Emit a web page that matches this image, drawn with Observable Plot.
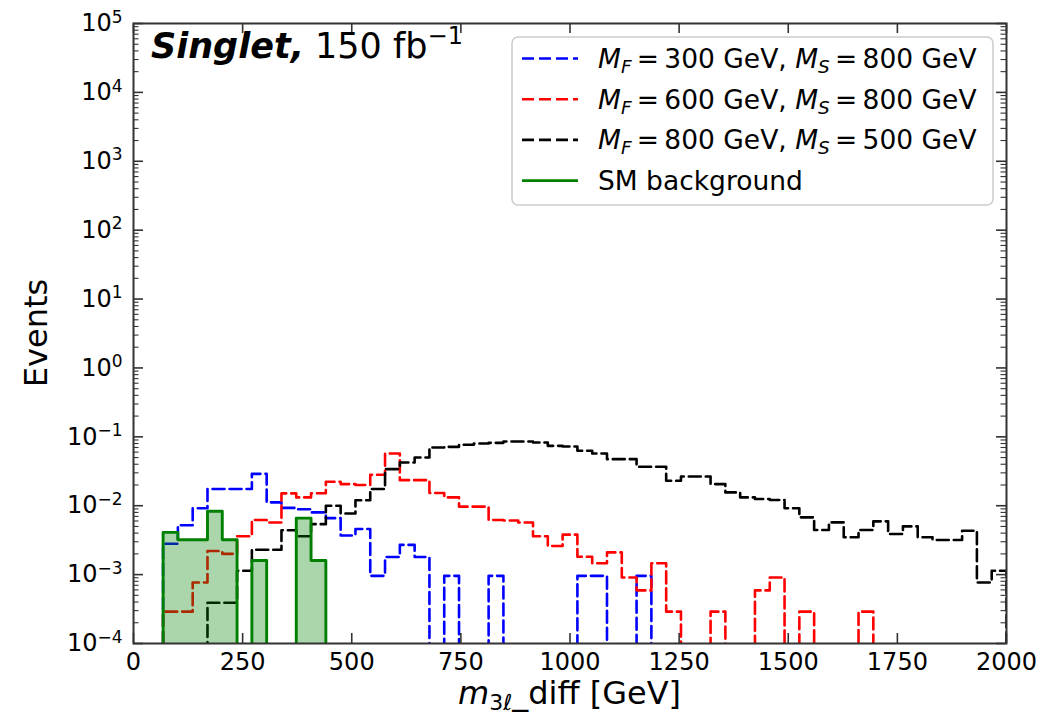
<!DOCTYPE html>
<html><head><meta charset="utf-8">
<script src="https://cdn.jsdelivr.net/npm/d3@7"></script>
<script src="https://cdn.jsdelivr.net/npm/@observablehq/plot@0.6"></script>
<style>body{margin:0;background:#fff} #chart{width:1047px;height:719px}</style>
</head><body><div id="chart"></div>
<script>
// ---- data -------------------------------------------------------------
const nBins = 59;                 // 59 equal bins between 0 and 2000 GeV
const xMin = 0, xMax = 2000;
const xTicks = [0, 250, 500, 750, 1000, 1250, 1500, 1750, 2000];
const yExponents = [-4, -3, -2, -1, 0, 1, 2, 3, 4, 5];

const seriesLabels = ["M_F = 300 GeV, M_S = 800 GeV", "M_F = 600 GeV, M_S = 800 GeV", "M_F = 800 GeV, M_S = 500 GeV", "SM background"];

// M_F = 300 GeV, M_S = 800 GeV (blue)
const blueEvents = [0, 0, 0.0028, 0.0052, 0.0092, 0.0175, 0.0175, 0.0175, 0.029, 0.0112,
  0.0093, 0.0089, 0.0080, 0.0066, 0.0037, 0.0046, 0.00096, 0.0018, 0.0027, 0.0018,
  0, 0.00096, 0, 0, 0.00096, 0, 0, 0, 0, 0,
  0.00096, 0.00096, 0, 0, 0.00096, 0, 0, 0, 0, 0,
  0, 0, 0, 0, 0, 0, 0, 0, 0, 0,
  0, 0, 0, 0, 0, 0, 0, 0, 0];
// M_F = 600 GeV, M_S = 800 GeV (red)
const redEvents = [0, 0, 0.00029, 0.00029, 0.00077, 0.0022, 0.0020, 0.0036, 0.0062, 0.0057,
  0.0151, 0.0132, 0.0152, 0.0223, 0.0206, 0.0200, 0.0281, 0.0573, 0.0235, 0.0235,
  0.0153, 0.0132, 0.0097, 0.0097, 0.0062, 0.0061, 0.0057, 0.0036, 0.0026, 0.0038,
  0.00182, 0.00146, 0.0021, 0.00091, 0.00059, 0.00146, 0.00029, 0, 0, 0.00029,
  0, 0, 0.00059, 0.00091, 0, 0.00029, 0, 0, 0, 0.00029,
  0, 0, 0, 0, 0, 0, 0, 0, 0];
// M_F = 800 GeV, M_S = 500 GeV (black)
const blackEvents = [0, 0, 0, 0, 0, 0.00039, 0.00039, 0.00114, 0.0023, 0.0023,
  0.0044, 0.0036, 0.0054, 0.0100, 0.0077, 0.0120, 0.0175, 0.034, 0.0424, 0.050,
  0.070, 0.0716, 0.0766, 0.080, 0.0818, 0.0855, 0.0855, 0.0828, 0.074, 0.0724,
  0.0627, 0.0573, 0.0474, 0.0474, 0.0367, 0.0367, 0.023, 0.0266, 0.0266, 0.0206,
  0.0156, 0.0132, 0.0125, 0.0121, 0.0092, 0.00678, 0.00444, 0.00573, 0.00348, 0.00444,
  0.00593, 0.00388, 0.00501, 0.00348, 0.00318, 0.00318, 0.00434, 0.00077, 0.00114];
// SM background (green, filled)
const smEvents = [0, 0, 0.0041, 0.0032, 0.0032, 0.0083, 0.0032, 0, 0.0016, 0,
  0, 0.0066, 0.0016, 0, 0, 0, 0, 0, 0, 0,
  0, 0, 0, 0, 0, 0, 0, 0, 0, 0,
  0, 0, 0, 0, 0, 0, 0, 0, 0, 0,
  0, 0, 0, 0, 0, 0, 0, 0, 0, 0,
  0, 0, 0, 0, 0, 0, 0, 0, 0];

// ---- build step tables --------------------------------------------------
const binWidth = (xMax - xMin) / nBins;
const edges = d3.range(nBins + 1).map(i => xMin + i * binWidth);
const FLOOR = 1e-9; // empty bins: drawn below the axis and clipped (log scale)
function steps(values) {
  const pts = [{x: edges[0], y: FLOOR}];
  values.forEach((v, i) => pts.push({x: edges[i], y: v > 0 ? v : FLOOR}));
  pts.push({x: edges[nBins], y: FLOOR});
  return pts;
}
const blueSteps = steps(blueEvents), redSteps = steps(redEvents),
      blackSteps = steps(blackEvents), smSteps = steps(smEvents);

const yMajor = yExponents.map(e => Math.pow(10, e));
const yMinor = [];
yExponents.slice(0, -1).forEach(e => { for (let m = 2; m <= 9; m++) yMinor.push(m * Math.pow(10, e)); });

const W = 1047, H = 719, mL = 133, mR = 41, mT = 23, mB = 76;
const fW = W - mL - mR, fH = H - mT - mB;
const tickCol = "#333";
const dash = "12,5";
const lw = 2.6;

const plot = Plot.plot({
  width: W, height: H,
  marginLeft: mL, marginRight: mR, marginTop: mT, marginBottom: mB,
  style: {fontFamily: "DejaVu Sans", background: "white", color: "black"},
  x: {domain: [xMin, xMax], label: null},
  y: {type: "log", domain: [1e-4, 1e5], label: null},
  marks: [
    Plot.line(blueSteps, {x: "x", y: "y", curve: "step-after", stroke: "#0000ff", strokeWidth: lw, strokeDasharray: dash, clip: true}),
    Plot.line(redSteps, {x: "x", y: "y", curve: "step-after", stroke: "#ff0000", strokeWidth: lw, strokeDasharray: dash, clip: true}),
    Plot.line(blackSteps, {x: "x", y: "y", curve: "step-after", stroke: "#000000", strokeWidth: lw, strokeDasharray: dash, clip: true}),
    Plot.areaY(smSteps, {x: "x", y1: FLOOR, y2: "y", curve: "step-after", fill: "#008000", fillOpacity: 0.33, clip: true}),
    Plot.line(smSteps, {x: "x", y: "y", curve: "step-after", stroke: "#008000", strokeWidth: 2.9, clip: true}),
    // inward ticks on all four sides
    Plot.tickX(xTicks, {x: d => d, insetTop: fH - 10, stroke: tickCol, strokeWidth: 1.6}),
    Plot.tickX(xTicks, {x: d => d, insetBottom: fH - 10, stroke: tickCol, strokeWidth: 1.6}),
    Plot.tickY(yMajor, {y: d => d, insetRight: fW - 10, stroke: tickCol, strokeWidth: 1.6}),
    Plot.tickY(yMajor, {y: d => d, insetLeft: fW - 10, stroke: tickCol, strokeWidth: 1.6}),
    Plot.tickY(yMinor, {y: d => d, insetRight: fW - 5.5, stroke: tickCol, strokeWidth: 1.1}),
    Plot.tickY(yMinor, {y: d => d, insetLeft: fW - 5.5, stroke: tickCol, strokeWidth: 1.1}),
    Plot.axisX({ticks: xTicks, tickSize: 0, tickPadding: 9, fontSize: 24, tickFormat: d => String(d)}),
    Plot.axisY({ticks: yMajor, tickSize: 0, tickPadding: 11, fontSize: 24, tickFormat: d => "10^" + Math.round(Math.log10(d))}),
    Plot.frame({stroke: tickCol, strokeWidth: 2})
  ]
});
document.getElementById("chart").appendChild(plot);

const svg = d3.select(plot);
// superscript exponents on the y tick labels
svg.selectAll('g[aria-label="y-axis tick label"] text').each(function () {
  const t = d3.select(this);
  const [base, ex] = t.text().split("^");
  t.text(null);
  t.append("tspan").text(base);
  t.append("tspan").attr("font-size", 17).attr("dy", "-0.5em").text(ex.replace("-", "\u2212"));
});

const ff = "DejaVu Sans";
// annotation
const title = svg.append("text").attr("x", 151).attr("y", 58).attr("text-anchor", "start")
  .attr("font-family", ff).attr("font-size", 35);
title.append("tspan").attr("font-weight", "bold").attr("font-style", "italic").text("Singlet,");
title.append("tspan").text(" 150 fb");
title.append("tspan").attr("font-size", 24).attr("dy", -14).text("\u22121");

// axis labels
const xl = svg.append("text").attr("x", (mL + W - mR) / 2).attr("y", 704).attr("text-anchor", "middle")
  .attr("font-family", ff).attr("font-size", 32);
xl.append("tspan").attr("font-style", "italic").text("m");
xl.append("tspan").attr("font-size", 22).attr("dy", 6).text("3");
xl.append("tspan").attr("font-size", 22).attr("font-style", "italic").text("\u2113");
xl.append("tspan").attr("dy", -6).text("_diff [GeV]");
svg.append("text").attr("transform", `translate(47,${(mT + H - mB) / 2}) rotate(-90)`).attr("text-anchor", "middle")
  .attr("font-family", ff).attr("font-size", 32).text("Events");

// legend
const lg = svg.append("g");
lg.append("rect").attr("x", 512).attr("y", 37).attr("width", 481).attr("height", 168).attr("rx", 6)
  .attr("fill", "white").attr("fill-opacity", 0.8).attr("stroke", "#cccccc").attr("stroke-width", 1.5);
const legendColors = ["#0000ff", "#ff0000", "#000000", "#008000"];
seriesLabels.forEach((lab, i) => {
  const base = 68 + i * 40.7;
  lg.append("line").attr("x1", 522).attr("x2", 578).attr("y1", base - 9.5).attr("y2", base - 9.5)
    .attr("stroke", legendColors[i]).attr("stroke-width", i < 3 ? lw : 2.9)
    .attr("stroke-dasharray", i < 3 ? dash : null);
  const t = lg.append("text").attr("x", 598).attr("y", base).attr("text-anchor", "start")
    .attr("font-family", ff).attr("font-size", 26.5);
  if (i < 3) {
    const m = lab.match(/M_F = (\d+) GeV, M_S = (\d+) GeV/);
    t.append("tspan").attr("font-style", "italic").text("M");
    t.append("tspan").attr("font-style", "italic").attr("font-size", 18.5).attr("dy", 5).text("F");
    t.append("tspan").attr("dy", -5).text("\u2009=\u2009" + m[1] + " GeV, ");
    t.append("tspan").attr("font-style", "italic").text("M");
    t.append("tspan").attr("font-style", "italic").attr("font-size", 18.5).attr("dy", 5).text("S");
    t.append("tspan").attr("dy", -5).text("\u2009=\u2009" + m[2] + " GeV");
  } else {
    t.text(lab);
  }
});
</script>
</body></html>
